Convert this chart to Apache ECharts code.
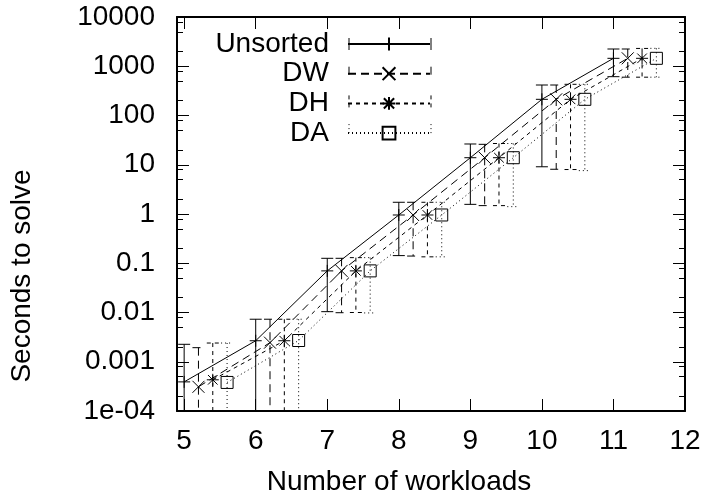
<!DOCTYPE html>
<html><head><meta charset="utf-8">
<script src="https://cdn.jsdelivr.net/npm/echarts@6/dist/echarts.min.js"></script>
<style>html,body{margin:0;padding:0;background:#fff}#c{width:706px;height:504px}</style>
</head><body><div id="c"></div>
<script>
// ---- data ----
const workloads = [5, 6, 7, 8, 9, 10, 11];
const seriesNames = ['Unsorted', 'DW', 'DH', 'DA'];
const xOffsets = [0, 0.2, 0.4, 0.6];

const unsortedMean = [0.00039, 0.00267, 0.070, 0.955, 13.9, 213, 1449];
const unsortedLow  = [0, 0, 0.0104, 0.143, 1.57, 9.1, 614];
const unsortedHigh = [0.00226, 0.0073, 0.126, 1.73, 26.4, 416, 2240];

const dwMean = [0.00031, 0.00244, 0.070, 0.955, 13.9, 213, 1449];
const dwLow  = [0, 0, 0.0099, 0.140, 1.48, 8.1, 600];
const dwHigh = [0.00193, 0.0073, 0.126, 1.73, 26.0, 416, 2240];

const dhMean = [0.00043, 0.00267, 0.070, 0.955, 13.9, 213, 1449];
const dhLow  = [0, 0, 0.0100, 0.135, 1.48, 8.0, 600];
const dhHigh = [0.0024, 0.0073, 0.130, 1.73, 27.0, 430, 2300];

const daMean = [0.00038, 0.0027, 0.070, 0.955, 13.9, 213, 1449];
const daLow  = [0, 0, 0.0098, 0.135, 1.41, 7.6, 600];
const daHigh = [0.0024, 0.0073, 0.130, 1.73, 27.0, 430, 2310];

const xTicks = [5, 6, 7, 8, 9, 10, 11, 12];
const yTickLabels = ['1e-04', '0.001', '0.01', '0.1', '1', '10', '100', '1000', '10000'];
const yMinorTicks = [2e-4, 5e-4, 8e-4, 2e-3, 5e-3, 8e-3, 0.02, 0.05, 0.08, 0.2, 0.5, 0.8,
                     2, 5, 8, 20, 50, 80, 200, 500, 800, 2000, 5000, 8000];

// ---- styling ----
const FONT = "'Liberation Sans', Arial, Helvetica, sans-serif";
const FS = 28;
const dashes = ['solid', [8, 5], [4, 4], [1, 3]];
const symbols = [
  'path://M0,5L10,5M5,0L5,10',
  'path://M0,0L10,10M10,0L0,10',
  'path://M0,5L10,5M5,0L5,10M1,1L9,9M9,1L1,9',
  'path://M0,0L10,0L10,10L0,10Z'
];
const means = [unsortedMean, dwMean, dhMean, daMean];
const lows = [unsortedLow, dwLow, dhLow, daLow];
const highs = [unsortedHigh, dwHigh, dhHigh, daHigh];

function errRenderer(dash) {
  return function (params, api) {
    const x = api.value(0), lo = api.value(1), hi = api.value(2);
    const cs = params.coordSys;
    const bottom = cs.y + cs.height;
    const t = api.coord([x, hi]);
    const px = t[0], pyHi = t[1];
    const hasLo = lo > 0;
    const pyLo = hasLo ? api.coord([x, lo])[1] : bottom;
    const style = { stroke: '#000', lineWidth: 1, lineDash: dash === 'solid' ? null : dash, fill: null };
    const ch = [
      { type: 'line', shape: { x1: px, y1: pyHi, x2: px, y2: pyLo }, style: style },
      { type: 'line', shape: { x1: px - 6, y1: pyHi, x2: px + 6, y2: pyHi }, style: style }
    ];
    if (hasLo) ch.push({ type: 'line', shape: { x1: px - 6, y1: pyLo, x2: px + 6, y2: pyLo }, style: style });
    return { type: 'group', children: ch };
  };
}

const series = [];
seriesNames.forEach(function (name, s) {
  series.push({
    type: 'custom', name: name + ' err', renderItem: errRenderer(dashes[s]),
    encode: { x: 0, y: [1, 2] }, silent: true, z: 2,
    data: workloads.map(function (w, i) { return [w + xOffsets[s], lows[s][i], highs[s][i]]; })
  });
  series.push({
    type: 'line', name: name, z: 3,
    data: workloads.map(function (w, i) { return [w + xOffsets[s], means[s][i]]; }),
    symbol: symbols[s], symbolSize: 12, showSymbol: true, showAllSymbol: true,
    lineStyle: { color: '#000', width: 1, type: dashes[s] },
    itemStyle: { color: 'transparent', borderColor: '#000', borderWidth: 1 },
    emphasis: { disabled: true }
  });
});

// legend sample end caps (decoration of the key)
const LEG_L = 349, LEG_R = 431, LEG_Y0 = 44, LEG_STEP = 28.7;
const legendCaps = [];
seriesNames.forEach(function (n, s) {
  const y = LEG_Y0 + s * LEG_STEP;
  [LEG_L, LEG_R].forEach(function (x) {
    legendCaps.push({ type: 'line', silent: true, z: 10,
      shape: { x1: x, y1: y - 6, x2: x, y2: y + 6 },
      style: { stroke: '#000', lineWidth: 1, lineDash: dashes[s] === 'solid' ? null : dashes[s] } });
  });
});

const axisLine = { show: true, lineStyle: { color: '#000', width: 2 } };
const yLog = { type: 'log', logBase: 10, min: 1e-4, max: 1e4, splitLine: { show: false } };

const option = {
  animation: false,
  backgroundColor: '#fff',
  grid: { left: 177, right: 21, top: 17, bottom: 93 },
  legend: {
    data: seriesNames, orient: 'vertical', align: 'right', padding: 0,
    right: 706 - LEG_R, top: 30, itemWidth: LEG_R - LEG_L, itemHeight: 16, itemGap: 1.7,
    textStyle: { fontSize: FS, fontFamily: FONT, color: '#000', padding: [0, 14, 0, 0] },
    selectedMode: false
  },
  graphic: legendCaps,
  xAxis: [
    { type: 'value', min: 4.9, max: 12, position: 'bottom', axisLine: axisLine,
      axisTick: { inside: true, length: 12, customValues: xTicks, lineStyle: { color: '#000' } },
      axisLabel: { customValues: xTicks, fontSize: FS, fontFamily: FONT, color: '#000', margin: 16 },
      splitLine: { show: false },
      name: 'Number of workloads', nameLocation: 'middle', nameGap: 57,
      nameTextStyle: { fontSize: FS, fontFamily: FONT, color: '#000', padding: [0, 64, 0, 0] } },
    { type: 'value', min: 4.9, max: 12, position: 'top', axisLine: axisLine,
      axisTick: { inside: true, length: 12, customValues: xTicks, lineStyle: { color: '#000' } },
      axisLabel: { show: false }, splitLine: { show: false } }
  ],
  yAxis: [
    Object.assign({}, yLog, { position: 'left', axisLine: axisLine,
      axisTick: { inside: true, length: 12, lineStyle: { color: '#000' } },
      axisLabel: { fontSize: FS, fontFamily: FONT, color: '#000', margin: 22,
        formatter: function (v) { return yTickLabels[Math.round(Math.log10(v)) + 4]; } },
      name: 'Seconds to solve', nameLocation: 'middle', nameGap: 141,
      nameTextStyle: { fontSize: FS, fontFamily: FONT, color: '#000', padding: [0, 124, 0, 0] } }),
    Object.assign({}, yLog, { position: 'left', axisLine: { show: false },
      axisTick: { inside: true, length: 6, customValues: yMinorTicks, lineStyle: { color: '#000' } },
      axisLabel: { show: false } }),
    Object.assign({}, yLog, { position: 'right', axisLine: axisLine,
      axisTick: { inside: true, length: 12, lineStyle: { color: '#000' } },
      axisLabel: { show: false } }),
    Object.assign({}, yLog, { position: 'right', axisLine: { show: false },
      axisTick: { inside: true, length: 6, customValues: yMinorTicks, lineStyle: { color: '#000' } },
      axisLabel: { show: false } })
  ],
  series: series
};

const chart = echarts.init(document.getElementById('c'), null, { renderer: 'canvas' });
chart.setOption(option);
</script>
</body></html>
